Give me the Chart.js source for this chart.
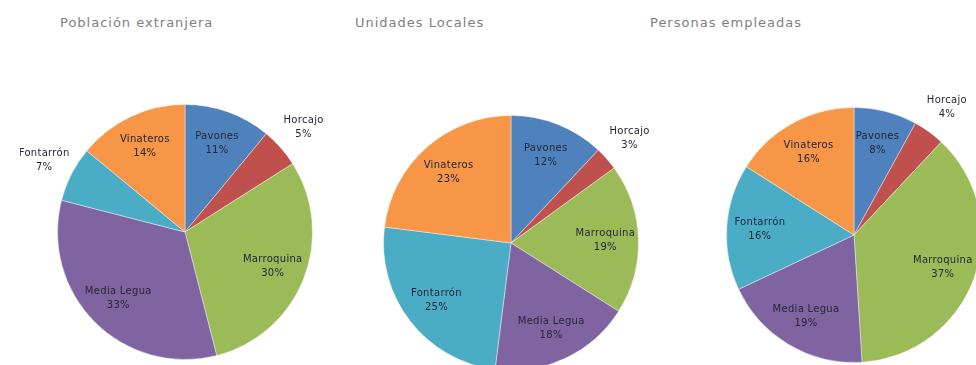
<!DOCTYPE html>
<html>
<head>
<meta charset="utf-8">
<script src="https://cdn.jsdelivr.net/npm/chart.js@4.4.0/dist/chart.umd.min.js"></script>
<style>
  html, body { margin: 0; padding: 0; background: #fff; }
  body { width: 976px; height: 365px; overflow: hidden; position: relative; }
  .title {
    position: absolute; top: 15px;
    font-family: "DejaVu Sans", sans-serif; font-size: 13px;
    letter-spacing: 1px; color: #808080; white-space: nowrap;
  }
  .pie { position: absolute; }
</style>
</head>
<body>
<div class="title" style="left:60px">Población extranjera</div>
<div class="title" style="left:355px">Unidades Locales</div>
<div class="title" style="left:650px">Personas empleadas</div>

<div class="pie" style="left:20px; top:82px"><canvas id="c1" width="330" height="300"></canvas></div>
<div class="pie" style="left:346px; top:93px"><canvas id="c2" width="330" height="300"></canvas></div>
<div class="pie" style="left:689px; top:85px"><canvas id="c3" width="330" height="300"></canvas></div>

<script>
// barrios, same order for the 3 pies (clockwise from 12 o'clock)
const barrios = ['Pavones', 'Horcajo', 'Marroquina', 'Media Legua', 'Fontarrón', 'Vinateros'];

// percentages
const poblacionExtranjera = [11, 5, 30, 33, 7, 14];
const unidadesLocales = [12, 3, 19, 18, 25, 23];
const personasEmpleadas = [8, 4, 37, 19, 16, 16];

// excel 2007 default palette
const colores = ['#4F81BD', '#C0504D', '#9BBB59', '#8064A2', '#4BACC6', '#F79646'];

// labels inside the slice, or outside when the slice is too thin
const etiquetas = {
  id: 'etiquetas',
  afterDatasetsDraw(chart) {
    const ctx = chart.ctx;
    const meta = chart.getDatasetMeta(0);
    const values = chart.data.datasets[0].data;
    ctx.save();
    ctx.font = '10px "DejaVu Sans", sans-serif';
    ctx.letterSpacing = '0.3px';
    ctx.fillStyle = '#262636';
    ctx.textAlign = 'center';
    ctx.textBaseline = 'middle';
    meta.data.forEach((arc, i) => {
      const { x, y, startAngle, endAngle, outerRadius } = arc.getProps(['x', 'y', 'startAngle', 'endAngle', 'outerRadius'], true);
      const mid = (startAngle + endAngle) / 2;
      const k = values[i] < 8 ? 1.24 : 0.74;
      const lx = x + Math.cos(mid) * outerRadius * k;
      const ly = y + Math.sin(mid) * outerRadius * k;
      ctx.fillText(chart.data.labels[i], lx, ly - 7);
      ctx.fillText(values[i] + '%', lx, ly + 7);
    });
    ctx.restore();
  }
};

function hacerTarta(id, valores) {
  new Chart(document.getElementById(id), {
    type: 'pie',
    data: {
      labels: barrios,
      datasets: [{
        data: valores,
        backgroundColor: colores,
        borderColor: 'rgba(255,255,255,0.4)',
        borderWidth: 1
      }]
    },
    options: {
      responsive: false,
      animation: false,
      layout: { padding: { left: 37, right: 37, top: 22, bottom: 22 } },
      plugins: {
        legend: { display: false },
        tooltip: { enabled: false }
      }
    },
    plugins: [etiquetas]
  });
}

hacerTarta('c1', poblacionExtranjera);
hacerTarta('c2', unidadesLocales);
hacerTarta('c3', personasEmpleadas);
</script>
</body>
</html>
